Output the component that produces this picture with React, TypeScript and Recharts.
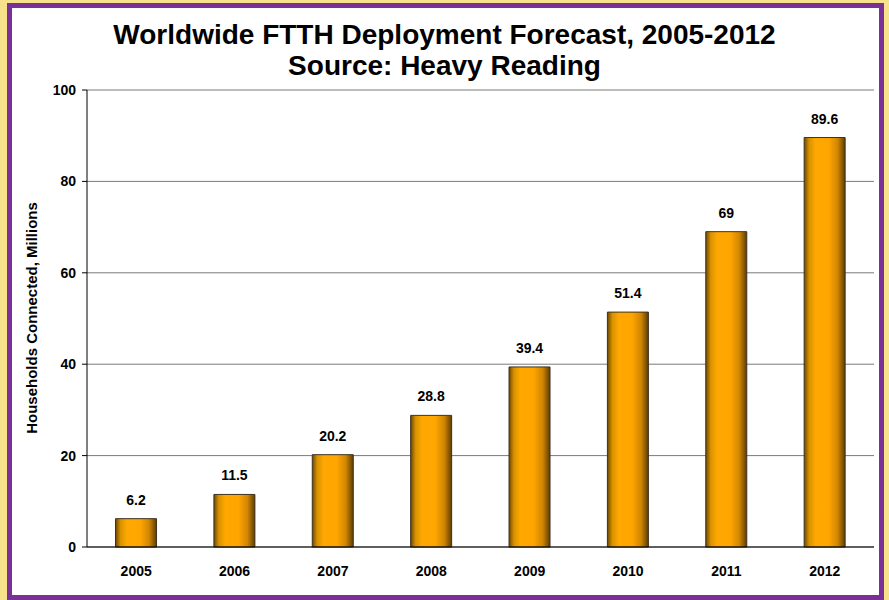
import React from "react";
import {
  BarChart,
  Bar,
  XAxis,
  YAxis,
  CartesianGrid,
  LabelList,
} from "recharts";

const years = ["2005", "2006", "2007", "2008", "2009", "2010", "2011", "2012"];
const households = [6.2, 11.5, 20.2, 28.8, 39.4, 51.4, 69, 89.6];
const yTicks = [0, 20, 40, 60, 80, 100];
const bandEdges = [0, 1, 2, 3, 4, 5, 6, 7, 8];

const data = years.map((year, i) => ({ year, value: households[i] }));

const font = "'Liberation Sans', Arial, sans-serif";

export default function App() {
  return (
    <div
      style={{
        position: "absolute",
        left: 0,
        top: 0,
        width: 889,
        height: 600,
        background: "#F7E28C",
        fontFamily: font,
      }}
    >
      <div
        style={{
          position: "absolute",
          left: 7,
          top: 3,
          width: 877,
          height: 597,
          boxSizing: "border-box",
          border: "5px solid #7A3096",
          background: "#ffffff",
        }}
      />
      <div
        style={{
          position: "absolute",
          left: 0,
          top: 19,
          width: 889,
          textAlign: "center",
          fontWeight: "bold",
          fontSize: 28,
          lineHeight: "31px",
          color: "#000",
        }}
      >
        Worldwide FTTH Deployment Forecast, 2005-2012
        <br />
        Source: Heavy Reading
      </div>
      <div
        style={{
          position: "absolute",
          left: 31,
          top: 318,
          transform: "translate(-50%, -50%) rotate(-90deg)",
          whiteSpace: "nowrap",
          fontWeight: "bold",
          fontSize: 15,
          color: "#000",
        }}
      >
        Households Connected, Millions
      </div>
      <div style={{ position: "absolute", left: 0, top: 0 }}>
        <BarChart
          width={889}
          height={600}
          data={data}
          margin={{ top: 90, right: 15, bottom: 23, left: 27 }}
          barCategoryGap="29%"
        >
          <defs>
            <linearGradient id="barFill" x1="0" y1="0" x2="1" y2="0">
              <stop offset="0%" stopColor="#6E4700" />
              <stop offset="12%" stopColor="#D89200" />
              <stop offset="28%" stopColor="#FFA800" />
              <stop offset="60%" stopColor="#FFA500" />
              <stop offset="82%" stopColor="#CF8600" />
              <stop offset="100%" stopColor="#5E3C00" />
            </linearGradient>
          </defs>
          <CartesianGrid vertical={false} stroke="#7a7a7a" />
          <XAxis
            xAxisId="edges"
            type="number"
            domain={[0, 8]}
            ticks={bandEdges}
            height={0}
            tick={false}
            axisLine={false}
            tickLine={{ stroke: "#000" }}
            tickSize={6}
          />
          <XAxis
            dataKey="year"
            height={30}
            axisLine={{ stroke: "#000" }}
            tickLine={false}
            tick={{ fill: "#000", fontSize: 14, fontWeight: "bold", fontFamily: font }}
            tickMargin={13}
          />
          <YAxis
            domain={[0, 100]}
            ticks={yTicks}
            width={60}
            axisLine={{ stroke: "#000" }}
            tickLine={{ stroke: "#000" }}
            tickSize={5}
            tickMargin={6}
            tick={{ fill: "#000", fontSize: 14, fontWeight: "bold", fontFamily: font }}
          />
          <YAxis
            yAxisId="frame"
            orientation="right"
            domain={[0, 100]}
            width={0}
            tick={false}
            tickLine={false}
            axisLine={{ stroke: "#a0a0a0" }}
          />
          <Bar
            dataKey="value"
            fill="url(#barFill)"
            stroke="#3d3220"
            strokeWidth={1}
            isAnimationActive={false}
          >
            <LabelList
              dataKey="value"
              position="top"
              offset={14}
              fill="#000"
              fontSize={14}
              fontWeight="bold"
              fontFamily={font}
            />
          </Bar>
        </BarChart>
      </div>
    </div>
  );
}
